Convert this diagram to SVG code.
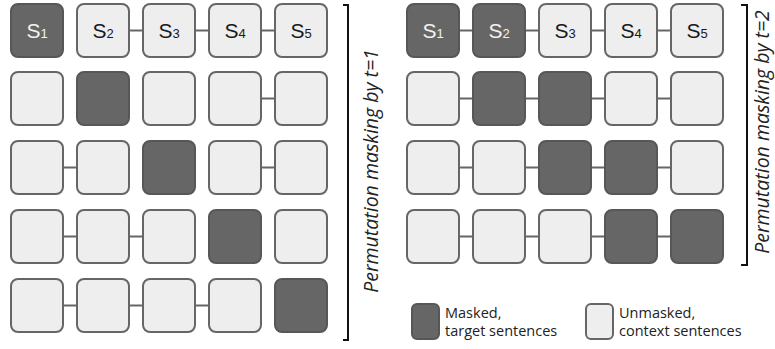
<svg xmlns="http://www.w3.org/2000/svg" width="775" height="349" viewBox="0 0 775 349">
<style>
.m{fill:#666666;stroke:#575757;stroke-width:2}
.u{fill:#eeeeee;stroke:#666666;stroke-width:2}
.c{stroke:#666666;stroke-width:2;fill:none}
.br{stroke:#111111;stroke-width:2;fill:none}
.lb{font-family:"Liberation Sans",Arial,sans-serif;font-size:21px;text-anchor:middle}
.lb tspan{font-size:13px}
.lw{fill:#f2f2f2}
.lk{fill:#1a1a1a}
.rot{font-family:"Open Sans","Noto Sans",sans-serif;font-style:italic;font-size:19.5px;fill:#222;text-anchor:middle}
.lg{font-family:"Open Sans","Noto Sans",sans-serif;font-size:14.5px;fill:#222}
</style>
<g id="connectors">
<path class="c" d="M130,30.5H142M196,30.5H208M262,30.5H274"/>
<path class="c" d="M262,98.5H274"/>
<path class="c" d="M64,167.5H76M262,167.5H274"/>
<path class="c" d="M64,236.5H76M130,236.5H142"/>
<path class="c" d="M64,305.5H76M130,305.5H142M196,305.5H208"/>
<path class="c" d="M460,30.5H472M526,30.5H538M592,30.5H604M658,30.5H670"/>
<path class="c" d="M460,98.5H472M526,98.5H538M592,98.5H604M658,98.5H670"/>
<path class="c" d="M460,167.5H472M526,167.5H538M592,167.5H604M658,167.5H670"/>
<path class="c" d="M460,236.5H472M526,236.5H538M592,236.5H604M658,236.5H670"/>
</g>
<g id="L-S1"><rect class="m" x="11" y="4" width="52" height="53" rx="7"/><text class="lb lw" x="37" y="38">S<tspan>1</tspan></text></g>
<g id="L-S2"><rect class="u" x="77" y="4" width="52" height="53" rx="7"/><text class="lb lk" x="103" y="38">S<tspan>2</tspan></text></g>
<g id="L-S3"><rect class="u" x="143" y="4" width="52" height="53" rx="7"/><text class="lb lk" x="169" y="38">S<tspan>3</tspan></text></g>
<g id="L-S4"><rect class="u" x="209" y="4" width="52" height="53" rx="7"/><text class="lb lk" x="235" y="38">S<tspan>4</tspan></text></g>
<g id="L-S5"><rect class="u" x="275" y="4" width="52" height="53" rx="7"/><text class="lb lk" x="301" y="38">S<tspan>5</tspan></text></g>
<g id="L-r2c1"><rect class="u" x="11" y="72" width="52" height="53" rx="7"/></g>
<g id="L-r2c2"><rect class="m" x="77" y="72" width="52" height="53" rx="7"/></g>
<g id="L-r2c3"><rect class="u" x="143" y="72" width="52" height="53" rx="7"/></g>
<g id="L-r2c4"><rect class="u" x="209" y="72" width="52" height="53" rx="7"/></g>
<g id="L-r2c5"><rect class="u" x="275" y="72" width="52" height="53" rx="7"/></g>
<g id="L-r3c1"><rect class="u" x="11" y="141" width="52" height="53" rx="7"/></g>
<g id="L-r3c2"><rect class="u" x="77" y="141" width="52" height="53" rx="7"/></g>
<g id="L-r3c3"><rect class="m" x="143" y="141" width="52" height="53" rx="7"/></g>
<g id="L-r3c4"><rect class="u" x="209" y="141" width="52" height="53" rx="7"/></g>
<g id="L-r3c5"><rect class="u" x="275" y="141" width="52" height="53" rx="7"/></g>
<g id="L-r4c1"><rect class="u" x="11" y="210" width="52" height="53" rx="7"/></g>
<g id="L-r4c2"><rect class="u" x="77" y="210" width="52" height="53" rx="7"/></g>
<g id="L-r4c3"><rect class="u" x="143" y="210" width="52" height="53" rx="7"/></g>
<g id="L-r4c4"><rect class="m" x="209" y="210" width="52" height="53" rx="7"/></g>
<g id="L-r4c5"><rect class="u" x="275" y="210" width="52" height="53" rx="7"/></g>
<g id="L-r5c1"><rect class="u" x="11" y="279" width="52" height="53" rx="7"/></g>
<g id="L-r5c2"><rect class="u" x="77" y="279" width="52" height="53" rx="7"/></g>
<g id="L-r5c3"><rect class="u" x="143" y="279" width="52" height="53" rx="7"/></g>
<g id="L-r5c4"><rect class="u" x="209" y="279" width="52" height="53" rx="7"/></g>
<g id="L-r5c5"><rect class="m" x="275" y="279" width="52" height="53" rx="7"/></g>
<g id="R-S1"><rect class="m" x="407" y="4" width="52" height="53" rx="7"/><text class="lb lw" x="433" y="38">S<tspan>1</tspan></text></g>
<g id="R-S2"><rect class="m" x="473" y="4" width="52" height="53" rx="7"/><text class="lb lw" x="499" y="38">S<tspan>2</tspan></text></g>
<g id="R-S3"><rect class="u" x="539" y="4" width="52" height="53" rx="7"/><text class="lb lk" x="565" y="38">S<tspan>3</tspan></text></g>
<g id="R-S4"><rect class="u" x="605" y="4" width="52" height="53" rx="7"/><text class="lb lk" x="631" y="38">S<tspan>4</tspan></text></g>
<g id="R-S5"><rect class="u" x="671" y="4" width="52" height="53" rx="7"/><text class="lb lk" x="697" y="38">S<tspan>5</tspan></text></g>
<g id="R-r2c1"><rect class="u" x="407" y="72" width="52" height="53" rx="7"/></g>
<g id="R-r2c2"><rect class="m" x="473" y="72" width="52" height="53" rx="7"/></g>
<g id="R-r2c3"><rect class="m" x="539" y="72" width="52" height="53" rx="7"/></g>
<g id="R-r2c4"><rect class="u" x="605" y="72" width="52" height="53" rx="7"/></g>
<g id="R-r2c5"><rect class="u" x="671" y="72" width="52" height="53" rx="7"/></g>
<g id="R-r3c1"><rect class="u" x="407" y="141" width="52" height="53" rx="7"/></g>
<g id="R-r3c2"><rect class="u" x="473" y="141" width="52" height="53" rx="7"/></g>
<g id="R-r3c3"><rect class="m" x="539" y="141" width="52" height="53" rx="7"/></g>
<g id="R-r3c4"><rect class="m" x="605" y="141" width="52" height="53" rx="7"/></g>
<g id="R-r3c5"><rect class="u" x="671" y="141" width="52" height="53" rx="7"/></g>
<g id="R-r4c1"><rect class="u" x="407" y="210" width="52" height="53" rx="7"/></g>
<g id="R-r4c2"><rect class="u" x="473" y="210" width="52" height="53" rx="7"/></g>
<g id="R-r4c3"><rect class="u" x="539" y="210" width="52" height="53" rx="7"/></g>
<g id="R-r4c4"><rect class="m" x="605" y="210" width="52" height="53" rx="7"/></g>
<g id="R-r4c5"><rect class="m" x="671" y="210" width="52" height="53" rx="7"/></g>
<g id="bracket-t1">
<path class="br" d="M343,5H348V340H343"/>
<text class="rot" transform="translate(378,171) rotate(-90)">Permutation masking by t=1</text>
</g>
<g id="bracket-t2">
<path class="br" d="M741,5H747V265H741"/>
<text class="rot" transform="translate(769,132) rotate(-90)">Permutation masking by t=2</text>
</g>
<g id="legend-masked">
<rect class="m" x="412" y="304" width="27" height="35" rx="5"/>
<text class="lg" x="445" y="318">Masked,</text>
<text class="lg" x="445" y="336">target sentences</text>
</g>
<g id="legend-unmasked">
<rect class="u" x="586" y="304" width="27" height="35" rx="5"/>
<text class="lg" x="619" y="318">Unmasked,</text>
<text class="lg" x="619" y="336">context sentences</text>
</g>
</svg>
